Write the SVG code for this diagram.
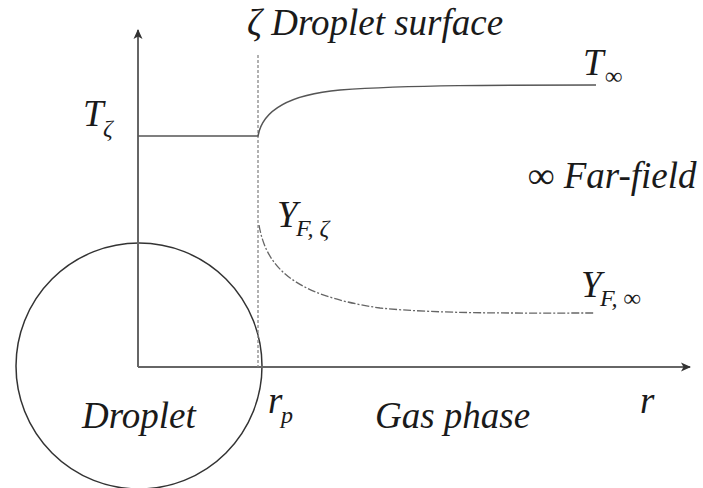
<svg xmlns="http://www.w3.org/2000/svg" width="703" height="488" viewBox="0 0 703 488">
<defs>
<marker id="ah" viewBox="0 0 10 10" refX="9" refY="5" markerWidth="10" markerHeight="10" markerUnits="userSpaceOnUse" orient="auto">
<path d="M0,0.5 L10,5 L0,9.5 L2.5,5 Z" fill="#333"/>
</marker>
</defs>
<rect width="703" height="488" fill="#fff"/>
<g id="droplet">
<circle cx="139" cy="366" r="123" fill="none" stroke="#333" stroke-width="1.5"/>
<text x="82" y="428" font-family="Times New Roman" font-style="italic" font-size="37" fill="#1a1a1a">Droplet</text>
</g>
<g id="connectors">
<line x1="138" y1="367" x2="138" y2="30" stroke="#666" stroke-width="2" marker-end="url(#ah)"/>
<line x1="138" y1="367" x2="690" y2="367" stroke="#666" stroke-width="2" marker-end="url(#ah)"/>
<line x1="258" y1="55" x2="258" y2="367" stroke="#888" stroke-width="1.3" stroke-dasharray="3 2"/>
<path d="M138,136 L258,136 C262,113 285,95 340,90 C410,85 500,85 596,85" fill="none" stroke="#555" stroke-width="1.5"/>
<path d="M259,225 C266,265 290,295 380,308 C440,314 520,313 594,313" fill="none" stroke="#666" stroke-width="1.3" stroke-dasharray="8 2 2 2"/>
</g>
<g id="surface">
<text x="247" y="35" font-family="Times New Roman" font-style="italic" font-size="37" fill="#1a1a1a">ζ Droplet surface</text>
</g>
<g id="t-zeta">
<text x="83" y="126" font-family="Times New Roman" font-style="italic" font-size="37" fill="#1a1a1a">T</text>
<text x="103" y="136" font-family="Times New Roman" font-style="italic" font-size="24" fill="#1a1a1a">ζ</text>
</g>
<g id="t-inf">
<text x="583" y="75" font-family="Times New Roman" font-style="italic" font-size="37" fill="#1a1a1a">T</text>
<text x="605" y="84" font-family="Times New Roman" font-style="italic" font-size="24" fill="#1a1a1a">∞</text>
</g>
<g id="far-field">
<text x="528" y="188" font-family="Times New Roman" font-style="italic" font-size="37" fill="#1a1a1a">∞ Far-field</text>
</g>
<g id="y-zeta">
<text x="277" y="227" font-family="Times New Roman" font-style="italic" font-size="37" fill="#1a1a1a">Y</text>
<text x="296" y="236" font-family="Times New Roman" font-style="italic" font-size="24" fill="#1a1a1a">F, ζ</text>
</g>
<g id="y-inf">
<text x="581" y="297" font-family="Times New Roman" font-style="italic" font-size="37" fill="#1a1a1a">Y</text>
<text x="600" y="306" font-family="Times New Roman" font-style="italic" font-size="24" fill="#1a1a1a">F, ∞</text>
</g>
<g id="rp">
<text x="268" y="413" font-family="Times New Roman" font-style="italic" font-size="37" fill="#1a1a1a">r</text>
<text x="281" y="423" font-family="Times New Roman" font-style="italic" font-size="24" fill="#1a1a1a">p</text>
</g>
<g id="gas">
<text x="375" y="428" font-family="Times New Roman" font-style="italic" font-size="37" fill="#1a1a1a">Gas phase</text>
</g>
<g id="r-label">
<text x="640" y="413" font-family="Times New Roman" font-style="italic" font-size="37" fill="#1a1a1a">r</text>
</g>
</svg>
